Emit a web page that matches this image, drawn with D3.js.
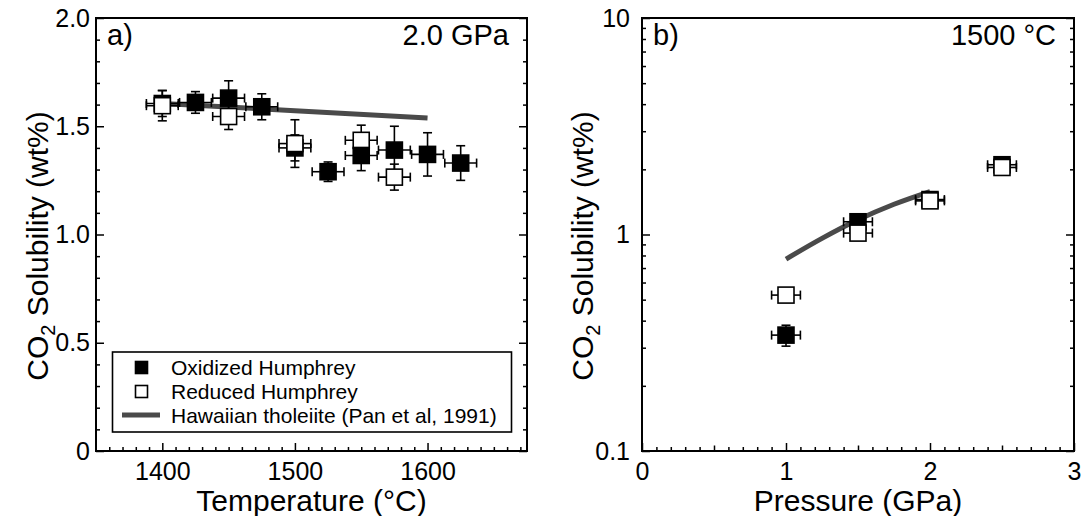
<!DOCTYPE html>
<html>
<head>
<meta charset="utf-8">
<script src="https://cdn.jsdelivr.net/npm/d3@7"></script>
<style>
  body { margin: 0; background: #fff; }
  svg { display: block; }
  text { font-family: "Liberation Sans", Arial, sans-serif; fill: #000; }
  .tick line { stroke: #000; stroke-width: 1.5; }
  .frame { fill: none; stroke: #000; stroke-width: 2; }
  .err { stroke: #000; stroke-width: 1.6; fill: none; }
</style>
</head>
<body>
<div id="chart"></div>
<script>
var width = 1083;
var height = 516;

// panel a) 2.0 GPa, solubility vs temperature
var oxT = [1400, 1425, 1450, 1475, 1500, 1525, 1550, 1575, 1600, 1625];
var oxV = [1.605, 1.61, 1.63, 1.59, 1.40, 1.29, 1.365, 1.39, 1.37, 1.33];
var oxErr = [0.06, 0.05, 0.08, 0.06, 0.06, 0.045, 0.07, 0.11, 0.10, 0.08];
var redT = [1400, 1450, 1500, 1550, 1575];
var redV = [1.595, 1.545, 1.42, 1.435, 1.265];
var redErr = [0.07, 0.06, 0.11, 0.07, 0.06];
var redAbove = [true, true, true, false, true];
var tErr = 12;
var panT = [1400, 1500, 1600];
var panV = [1.605, 1.572, 1.538];

// panel b) 1500 C, solubility vs pressure
var oxP = [1.0, 1.5, 2.0, 2.5];
var oxS = [0.343, 1.145, 1.45, 2.10];
var oxSErr = [0.038, 0.04, 0.04, 0.05];
var redP = [1.0, 1.5, 2.0, 2.5];
var redS = [0.525, 1.015, 1.43, 2.04];
var redSErr = [0.02, 0.03, 0.03, 0.05];
var pErr = 0.1;
var panP = [1.0, 1.25, 1.5, 1.75, 2.0];
var panS = [0.77, 0.96, 1.17, 1.38, 1.58];

var ticksA_x = [1400, 1500, 1600];
var ticksA_y = [0, 0.5, 1.0, 1.5, 2.0];
var ticksB_x = [0, 1, 2, 3];
var ticksB_y = [0.1, 1, 10];

var LINE_COLOR = '#4a4a4a';
var MARK = 16;
var CAP = 4.5;

var svg = d3.select('#chart').append('svg')
    .attr('width', width)
    .attr('height', height);

var top_ = 18, bottom_ = 451;

var xA = d3.scaleLinear().domain([1350, 1675]).range([96, 527]);
var yA = d3.scaleLinear().domain([0, 2]).range([bottom_, top_]);
var xB = d3.scaleLinear().domain([0, 3]).range([642, 1074]);
var yB = d3.scaleLog().domain([0.1, 10]).range([bottom_, top_]);

var minorA_x = d3.range(1360, 1675, 10).filter(function (d) { return d % 100 != 0; });
var minorA_y = d3.range(1, 20).map(function (d) { return d / 10; }).filter(function (d, i) { return (i + 1) % 5 != 0; });
var minorB_x = d3.range(1, 30).map(function (d) { return d / 10; }).filter(function (d, i) { return (i + 1) % 5 != 0; });
var minorB_y = [];
[0.1, 1].forEach(function (dec) {
    for (var k = 2; k <= 9; k++) minorB_y.push(dec * k);
});

var drawAxes = function (x, y, opt) {
    var x0 = x.range()[0], x1 = x.range()[1];
    var g = svg.append('g');

    // bottom
    var gb = g.append('g').attr('transform', 'translate(0,' + bottom_ + ')');
    gb.append('g').call(d3.axisBottom(x).tickValues(opt.minorX).tickSize(-4).tickFormat(''));
    if (opt.midX) gb.append('g').call(d3.axisBottom(x).tickValues(opt.midX).tickSize(-5.5).tickFormat(''));
    gb.append('g').call(d3.axisBottom(x).tickValues(opt.majorX).tickSize(-8).tickPadding(11).tickFormat(opt.fmtX));

    // left
    var gl = g.append('g').attr('transform', 'translate(' + x0 + ',0)');
    gl.append('g').call(d3.axisLeft(y).tickValues(opt.minorY).tickSize(-4).tickFormat(''));
    gl.append('g').call(d3.axisLeft(y).tickValues(opt.majorY).tickSize(-8).tickPadding(opt.padY).tickFormat(opt.fmtY));

    // right
    var gr = g.append('g').attr('transform', 'translate(' + x1 + ',0)');
    gr.append('g').call(d3.axisRight(y).tickValues(opt.minorY).tickSize(-4).tickFormat(''));
    gr.append('g').call(d3.axisRight(y).tickValues(opt.majorY).tickSize(-8).tickFormat(''));

    g.selectAll('.domain').remove();
    g.selectAll('.tick text').style('font-size', '25px');

    g.append('rect')
        .attr('class', 'frame')
        .attr('x', x0).attr('y', top_)
        .attr('width', x1 - x0).attr('height', bottom_ - top_);

    // titles
    g.append('text')
        .attr('x', (x0 + x1) / 2).attr('y', 511)
        .attr('text-anchor', 'middle')
        .style('font-size', '30px')
        .text(opt.titleX);

    var yt = g.append('text')
        .attr('transform', 'translate(' + opt.titleYx + ',246) rotate(-90)')
        .attr('text-anchor', 'middle')
        .style('font-size', '30px');
    yt.append('tspan').text('CO');
    yt.append('tspan').attr('dy', 7).style('font-size', '20px').text('2');
    yt.append('tspan').attr('dy', -7).text(' Solubility (wt%)');

    g.append('text')
        .attr('x', x0 + 11).attr('y', 45)
        .style('font-size', '29px')
        .text(opt.label);
    g.append('text')
        .attr('x', x1 - 18).attr('y', 45)
        .attr('text-anchor', 'end')
        .style('font-size', '29px')
        .text(opt.cond);
};

var errorBars = function (g, x, y, px, py, ex, eyLo, eyHi) {
    var cx = x(px), cy = y(py);
    // horizontal
    var xl = x(px - ex), xr = x(px + ex);
    g.append('line').attr('class', 'err').attr('x1', xl).attr('x2', xr).attr('y1', cy).attr('y2', cy);
    g.append('line').attr('class', 'err').attr('x1', xl).attr('x2', xl).attr('y1', cy - CAP).attr('y2', cy + CAP);
    g.append('line').attr('class', 'err').attr('x1', xr).attr('x2', xr).attr('y1', cy - CAP).attr('y2', cy + CAP);
    // vertical
    var yt = y(eyHi), yb = y(eyLo);
    g.append('line').attr('class', 'err').attr('x1', cx).attr('x2', cx).attr('y1', yt).attr('y2', yb);
    g.append('line').attr('class', 'err').attr('x1', cx - CAP).attr('x2', cx + CAP).attr('y1', yt).attr('y2', yt);
    g.append('line').attr('class', 'err').attr('x1', cx - CAP).attr('x2', cx + CAP).attr('y1', yb).attr('y2', yb);
};

var marker = function (g, cx, cy, filled, size) {
    g.append('rect')
        .attr('x', cx - size / 2).attr('y', cy - size / 2)
        .attr('width', size).attr('height', size)
        .attr('fill', filled ? '#000' : '#fff')
        .attr('stroke', '#000')
        .attr('stroke-width', 1.6);
};

// ---------- panel a ----------
drawAxes(xA, yA, {
    minorX: minorA_x, majorX: ticksA_x, fmtX: d3.format('d'),
    minorY: minorA_y, majorY: ticksA_y,
    fmtY: function (d) { return d == 0 ? '0' : d3.format('.1f')(d); },
    padY: 6, titleX: 'Temperature (\u00b0C)', titleYx: 48,
    label: 'a)', cond: '2.0 GPa'
});

var gA = svg.append('g');
gA.append('path')
    .datum(d3.zip(panT, panV))
    .attr('fill', 'none')
    .attr('stroke', LINE_COLOR)
    .attr('stroke-width', 5)
    .attr('d', d3.line().x(function (d) { return xA(d[0]); }).y(function (d) { return yA(d[1]); }));

oxT.forEach(function (t, i) { errorBars(gA, xA, yA, t, oxV[i], tErr, oxV[i] - oxErr[i], oxV[i] + oxErr[i]); });
redT.forEach(function (t, i) { errorBars(gA, xA, yA, t, redV[i], tErr, redV[i] - redErr[i], redV[i] + redErr[i]); });
redT.forEach(function (t, i) { if (!redAbove[i]) marker(gA, xA(t), yA(redV[i]), false, MARK); });
oxT.forEach(function (t, i) { marker(gA, xA(t), yA(oxV[i]), true, MARK); });
redT.forEach(function (t, i) { if (redAbove[i]) marker(gA, xA(t), yA(redV[i]), false, MARK); });

// legend
var lg = svg.append('g');
lg.append('rect')
    .attr('x', 112.5).attr('y', 352)
    .attr('width', 399).attr('height', 80)
    .attr('fill', '#fff').attr('stroke', '#000').attr('stroke-width', 1.6);
marker(lg, 141.5, 367.5, true, 12);
marker(lg, 141.5, 391.5, false, 12);
lg.append('line')
    .attr('x1', 122).attr('x2', 160).attr('y1', 415).attr('y2', 415)
    .attr('stroke', LINE_COLOR).attr('stroke-width', 5);
var legendText = ['Oxidized Humphrey', 'Reduced Humphrey', 'Hawaiian tholeiite (Pan et al, 1991)'];
legendText.forEach(function (t, i) {
    lg.append('text')
        .attr('x', 171).attr('y', 375 + i * 24)
        .style('font-size', '21px')
        .text(t);
});

// ---------- panel b ----------
drawAxes(xB, yB, {
    minorX: minorB_x.filter(function (d) { return Math.round(d * 10) % 5 != 0; }),
    midX: [0.5, 1.5, 2.5],
    majorX: ticksB_x, fmtX: d3.format('d'),
    minorY: minorB_y, majorY: ticksB_y,
    fmtY: function (d) { return d < 1 ? '0.1' : d3.format('d')(d); },
    padY: 12, titleX: 'Pressure (GPa)', titleYx: 593,
    label: 'b)', cond: '1500 \u00b0C'
});

var gB = svg.append('g');
gB.append('path')
    .datum(d3.zip(panP, panS))
    .attr('fill', 'none')
    .attr('stroke', LINE_COLOR)
    .attr('stroke-width', 5)
    .attr('d', d3.line().curve(d3.curveMonotoneX).x(function (d) { return xB(d[0]); }).y(function (d) { return yB(d[1]); }));

oxP.forEach(function (p, i) { errorBars(gB, xB, yB, p, oxS[i], pErr, oxS[i] - oxSErr[i], oxS[i] + oxSErr[i]); });
redP.forEach(function (p, i) { errorBars(gB, xB, yB, p, redS[i], pErr, redS[i] - redSErr[i], redS[i] + redSErr[i]); });
oxP.forEach(function (p, i) { marker(gB, xB(p), yB(oxS[i]), true, MARK); });
redP.forEach(function (p, i) { marker(gB, xB(p), yB(redS[i]), false, MARK); });
</script>
</body>
</html>
